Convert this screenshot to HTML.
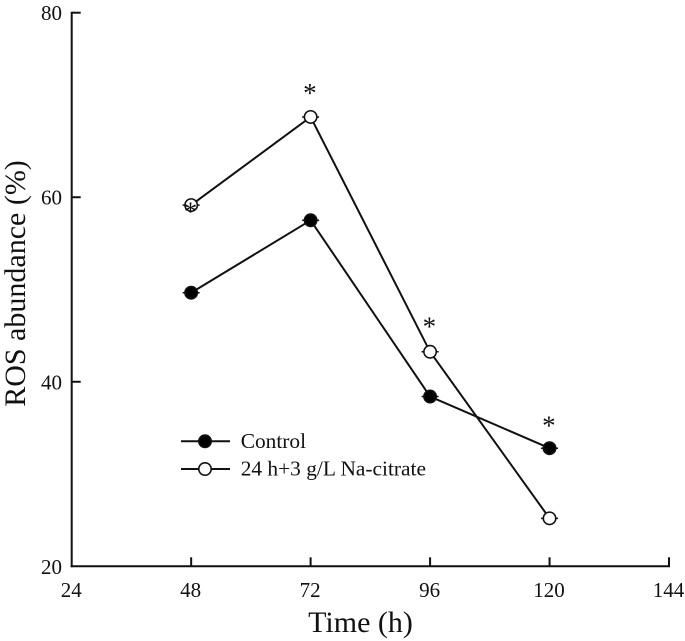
<!DOCTYPE html>
<html>
<head>
<meta charset="utf-8">
<style>
html,body{margin:0;padding:0;background:#fff;width:685px;height:641px;overflow:hidden}
svg{display:block;font-family:"Liberation Serif",serif;fill:#111}
</style>
</head>
<body>
<svg id="chart" width="685" height="641" viewBox="0 0 685 641" xmlns="http://www.w3.org/2000/svg"></svg>
<script>
const hours = [48, 72, 96, 120];
const controlValues = [49.65, 57.5, 38.4, 32.8];
const citrateValues = [59.15, 68.7, 43.25, 25.2];
const xTicks = [24, 48, 72, 96, 120, 144];
const yTicks = [20, 40, 60, 80];
const starValues = [58.83, 71.68, 46.37, 35.67];
const legendLabels = ["Control", "24 h+3 g/L Na-citrate"];

const svg = document.getElementById('chart');
const NS = 'http://www.w3.org/2000/svg';
const xScale = h => 71.7 + (h - 24) * (669 - 71.7) / 120;
const yScale = v => 566.3 - (v - 20) * (566.3 - 12.7) / 60;

function make(tag, attrs, text) {
  const el = document.createElementNS(NS, tag);
  for (const k in attrs) el.setAttribute(k, attrs[k]);
  if (text !== undefined) el.textContent = text;
  svg.appendChild(el);
  return el;
}
const lineStyle = {stroke: '#111', 'stroke-width': 2, fill: 'none'};

let el = make('line', {x1: xScale(24), y1: yScale(20) + 1, x2: xScale(24), y2: yScale(80) - 1, ...lineStyle});


el = make('line', {x1: xScale(24) - 1, y1: yScale(20), x2: xScale(144) + 1, y2: yScale(20), ...lineStyle});



yTicks.forEach(t => {
  if (t !== 20) {
    const m = make('line', {x1: xScale(24), y1: yScale(t), x2: xScale(24) + 9, y2: yScale(t), ...lineStyle});
    
    
  }
  const l = make('text', {x: 62, y: yScale(t) + 7.5, 'text-anchor': 'end', 'font-size': 21}, String(t));
  
  
});
xTicks.forEach(t => {
  if (t !== 24) {
    const m = make('line', {x1: xScale(t), y1: yScale(20), x2: xScale(t), y2: yScale(20) - 9, ...lineStyle});
    
    
  }
  const l = make('text', {x: xScale(t) - 0.5, y: 597, 'text-anchor': 'middle', 'font-size': 21}, String(t));
  
  
});

el = make('text', {x: 360.5, y: 632, 'text-anchor': 'middle', 'font-size': 30}, 'Time (h)');


el = make('text', {x: 0, y: 0, 'text-anchor': 'middle', 'font-size': 30, transform: 'translate(25,283.5) rotate(-90)'}, 'ROS abundance (%)');



function drawSeries(values, fill, name) {
  const pts = values.map((v, i) => xScale(hours[i]) + ',' + yScale(v)).join(' ');
  const line = make('polyline', {points: pts, ...lineStyle});
  
  
  values.forEach((v, i) => {
    const cap = make('line', {x1: xScale(hours[i]) - 8.5, y1: yScale(v), x2: xScale(hours[i]) + 8.5, y2: yScale(v), stroke: '#111', 'stroke-width': 1.5});
    
    
    const dot = make('circle', {cx: xScale(hours[i]), cy: yScale(v), r: 6.2, fill: fill, stroke: '#111', 'stroke-width': 1.6});
    
    
  });
}
drawSeries(controlValues, '#000', 'control');
drawSeries(citrateValues, '#fff', 'citrate');

starValues.forEach((v, i) => {
  const s = make('text', {x: xScale(hours[i]) - 0.7, y: yScale(v) + 12.7, 'text-anchor': 'middle', 'font-size': 27}, '*');
  
  
});

legendLabels.forEach((label, i) => {
  const y = 441.3 + i * 27.7;
  const ln = make('line', {x1: 181, y1: y, x2: 230, y2: y, ...lineStyle});
  
  
  const c = make('circle', {cx: 205, cy: y, r: 6.2, fill: i === 0 ? '#000' : '#fff', stroke: '#111', 'stroke-width': 1.6});
  
  
  const t = make('text', {x: 240.7, y: y + 6.5, 'font-size': 21.4}, label);
  
  
});
</script>
</body>
</html>
